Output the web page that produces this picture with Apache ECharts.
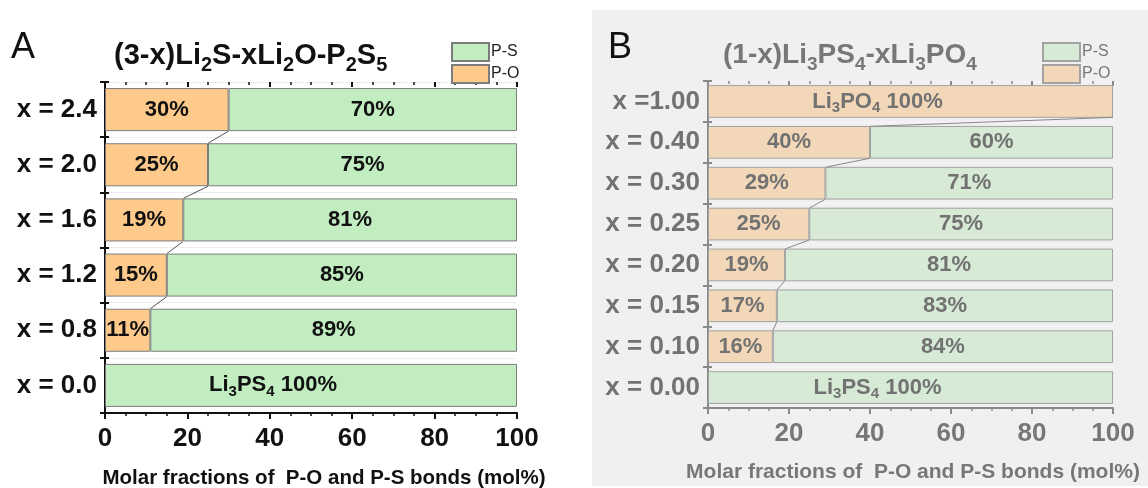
<!DOCTYPE html>
<html>
<head>
<meta charset="utf-8">
<script src="https://cdn.jsdelivr.net/npm/echarts@6/dist/echarts.min.js"></script>
<style>
  html, body { margin: 0; padding: 0; background: #ffffff; }
  #chart { width: 1148px; height: 488px; }
</style>
</head>
<body>
<div id="chart"></div>
<script>
// Panel A: (3-x)Li2S-xLi2O-P2S5, rows listed top to bottom
const catsA = ['x = 2.4', 'x = 2.0', 'x = 1.6', 'x = 1.2', 'x = 0.8', 'x = 0.0'];
const poA = [30, 25, 19, 15, 11, 0];
const psA = [70, 75, 81, 85, 89, 100];

// Panel B: (1-x)Li3PS4-xLi3PO4, rows listed top to bottom
const catsB = ['x =1.00', 'x = 0.40', 'x = 0.30', 'x = 0.25', 'x = 0.20', 'x = 0.15', 'x = 0.10', 'x = 0.00'];
const poB = [100, 40, 29, 25, 19, 17, 16, 0];
const psB = [0, 60, 71, 75, 81, 83, 84, 100];

const axisTitle = 'Molar fractions of  P-O and P-S bonds (mol%)';
const FONT = '"Liberation Sans", Arial, sans-serif';
const BAR = 0.78;

const chart = echarts.init(document.getElementById('chart'), null, { renderer: 'canvas' });

// empty segments are skipped; the single-phase (100 %) row gets its own label shift
function items(arr, fullOffset) {
  return arr.map(v => {
    if (!(v > 0)) return '-';
    if (v === 100) return { value: v, label: { offset: fullOffset } };
    return v;
  });
}

function links(po) {
  const out = [];
  for (let i = 0; i < po.length - 1; i++) {
    if (po[i] > 0 && po[i + 1] > 0) out.push([po[i], i, po[i + 1], i + 1]);
  }
  return out;
}

function richLabel(color, size) {
  return {
    n: { fontFamily: FONT, fontWeight: 'bold', fontSize: size, color: color, lineHeight: size + 2 },
    s: { fontFamily: FONT, fontWeight: 'bold', fontSize: Math.round(size * 0.68), color: color,
         verticalAlign: 'bottom', padding: [12, 0, 0, 0] }
  };
}

function segLabel(color, formula) {
  return {
    show: true,
    position: 'inside',
    fontFamily: FONT, fontWeight: 'bold', fontSize: 22, color: color,
    formatter: p => (p.value === 100 ? formula : '{n|' + p.value + '%}'),
    rich: richLabel(color, 22)
  };
}

function connector(xi, yi, color, po) {
  return {
    type: 'custom',
    xAxisIndex: xi, yAxisIndex: yi,
    encode: { x: [0, 2], y: [1, 3] },
    z: 5,
    silent: true,
    data: links(po),
    renderItem: (params, api) => {
      const a = api.coord([api.value(0), api.value(1)]);
      const b = api.coord([api.value(2), api.value(3)]);
      const half = api.size([0, 1])[1] * BAR / 2;
      return {
        type: 'line',
        shape: { x1: a[0], y1: a[1] + half, x2: b[0], y2: b[1] - half },
        style: { stroke: color, lineWidth: 1 }
      };
    }
  };
}

function valueAxes(gi, lineColor, labelColor, gap, nameSize, namePadLeft) {
  return [
    {
      type: 'value', gridIndex: gi, min: 0, max: 100, interval: 20,
      axisLine: { show: true, lineStyle: { color: lineColor, width: 2 } },
      axisTick: { show: true, length: 6, lineStyle: { color: lineColor, width: 2 } },
      minorTick: { show: true, splitNumber: 4, length: 3, lineStyle: { color: lineColor, width: 1.5 } },
      splitLine: { show: false },
      axisLabel: { fontFamily: FONT, fontWeight: 'bold', fontSize: 26, color: labelColor, margin: 13,
                   showMinLabel: true, showMaxLabel: true },
      name: axisTitle, nameLocation: 'middle', nameGap: gap,
      nameTextStyle: { fontFamily: FONT, fontWeight: 'bold', fontSize: nameSize, color: labelColor,
                       padding: [0, 0, 0, namePadLeft] }
    },
    {
      type: 'value', gridIndex: gi, min: 0, max: 100, interval: 20,
      axisLine: { show: false },
      axisTick: { show: true, inside: true, length: 5, lineStyle: { color: lineColor, width: 2 } },
      minorTick: { show: true, splitNumber: 4, length: 3, lineStyle: { color: lineColor, width: 1.5 } },
      splitLine: { show: false },
      axisLabel: { show: false }
    }
  ];
}

function catAxes(gi, cats, lineColor, labelColor, splitColor) {
  return [
    {
      type: 'category', gridIndex: gi, data: cats, inverse: true,
      axisLine: { show: true, lineStyle: { color: lineColor, width: 2 } },
      axisTick: { show: true, length: 5, lineStyle: { color: lineColor, width: 2 } },
      splitLine: { show: true, lineStyle: { color: splitColor, type: 'dotted', width: 1 } },
      axisLabel: { fontFamily: FONT, fontWeight: 'bold', fontSize: 26, color: labelColor, margin: 8 }
    },
    {
      type: 'category', gridIndex: gi, data: cats, inverse: true, position: 'left',
      axisLine: { show: false },
      axisTick: { show: true, inside: true, length: 4, lineStyle: { color: lineColor, width: 2 } },
      axisLabel: { show: false }
    }
  ];
}

function titleText(left, text, color, size) {
  const sub = Math.round(size * 0.68);
  return {
    type: 'text', left: left, top: 41, silent: true,
    style: {
      text: text,
      rich: {
        b: { fontFamily: FONT, fontWeight: 'bold', fontSize: size, fill: color, lineHeight: size + 3 },
        s: { fontFamily: FONT, fontWeight: 'bold', fontSize: sub, fill: color, verticalAlign: 'bottom', padding: [sub, 0, 0, 0] }
      }
    }
  };
}

const colA = { po: '#fdca8b', ps: '#c1edc1', border: '#7c7c7c', text: '#111111' };
const colB = { po: '#f2d8b9', ps: '#d6ead6', border: '#a2a2a2', text: '#727272' };

const ps4 = '{n|Li}{s|3}{n|PS}{s|4}{n| 100%}';
const po4 = '{n|Li}{s|3}{n|PO}{s|4}{n| 100%}';

const option = {
  animation: false,
  backgroundColor: '#ffffff',
  textStyle: { fontFamily: FONT },
  grid: [
    { left: 105, top: 82, width: 412, height: 331, outerBoundsMode: 'none', containLabel: false },
    { left: 708, top: 81, width: 405, height: 327, outerBoundsMode: 'none', containLabel: false }
  ],
  xAxis: [].concat(valueAxes(0, '#111111', '#111111', 55, 20.5, 26),
                   valueAxes(1, '#8a8a8a', '#777777', 54, 21, 5)),
  yAxis: [].concat(catAxes(0, catsA, '#111111', '#111111', '#dcdcdc'),
                   catAxes(1, catsB, '#8a8a8a', '#727272', '#fbfbfb')),
  legend: [
    {
      left: 446, top: 37, orient: 'vertical', itemWidth: 37, itemHeight: 18, itemGap: 2,
      icon: 'rect', data: ['P-S', 'P-O'],
      textStyle: { fontFamily: FONT, fontSize: 16, color: '#222222', padding: [0, 0, 0, -3] },
      selectedMode: false
    },
    {
      left: 1037, top: 37, orient: 'vertical', itemWidth: 37, itemHeight: 18, itemGap: 2,
      icon: 'rect', data: ['P-S\u200b', 'P-O\u200b'],
      textStyle: { fontFamily: FONT, fontSize: 16, color: '#777777', padding: [0, 0, 0, -3] },
      selectedMode: false
    }
  ],
  graphic: [
    { type: 'rect', z: -100, silent: true, shape: { x: 592, y: 10, width: 556, height: 476 },
      style: { fill: '#f0f0f0' } },
    { type: 'text', left: 11, top: 30, silent: true,
      style: { text: 'A', font: 'normal 36px ' + FONT, fill: '#111111' } },
    { type: 'text', left: 608, top: 30, silent: true,
      style: { text: 'B', font: 'normal 36px ' + FONT, fill: '#111111' } },
    titleText(114, '{b|(3-x)Li}{s|2}{b|S-xLi}{s|2}{b|O-P}{s|2}{b|S}{s|5}', '#111111', 29),
    titleText(723, '{b|(1-x)Li}{s|3}{b|PS}{s|4}{b|-xLi}{s|3}{b|PO}{s|4}', '#777777', 28)
  ],
  series: [
    {
      type: 'bar', name: 'P-O', stack: 'A', xAxisIndex: 0, yAxisIndex: 0,
      barWidth: (BAR * 100) + '%', data: items(poA, [-38, 0]),
      itemStyle: { color: colA.po, borderColor: colA.border, borderWidth: 1 },
      label: segLabel(colA.text, po4)
    },
    {
      type: 'bar', name: 'P-S', stack: 'A', xAxisIndex: 0, yAxisIndex: 0,
      barWidth: (BAR * 100) + '%', data: items(psA, [-38, 0]),
      itemStyle: { color: colA.ps, borderColor: colA.border, borderWidth: 1 },
      label: segLabel(colA.text, ps4)
    },
    connector(0, 0, '#555555', poA),
    {
      type: 'bar', name: 'P-O\u200b', stack: 'B', xAxisIndex: 2, yAxisIndex: 2,
      barWidth: (BAR * 100 + 2) + '%', data: items(poB, [-33, 0]),
      itemStyle: { color: colB.po, borderColor: colB.border, borderWidth: 1 },
      label: segLabel(colB.text, po4)
    },
    {
      type: 'bar', name: 'P-S\u200b', stack: 'B', xAxisIndex: 2, yAxisIndex: 2,
      barWidth: (BAR * 100 + 2) + '%', data: items(psB, [-33, 0]),
      itemStyle: { color: colB.ps, borderColor: colB.border, borderWidth: 1 },
      label: segLabel(colB.text, ps4)
    },
    connector(2, 2, '#888888', poB)
  ]
};

chart.setOption(option);
</script>
</body>
</html>
